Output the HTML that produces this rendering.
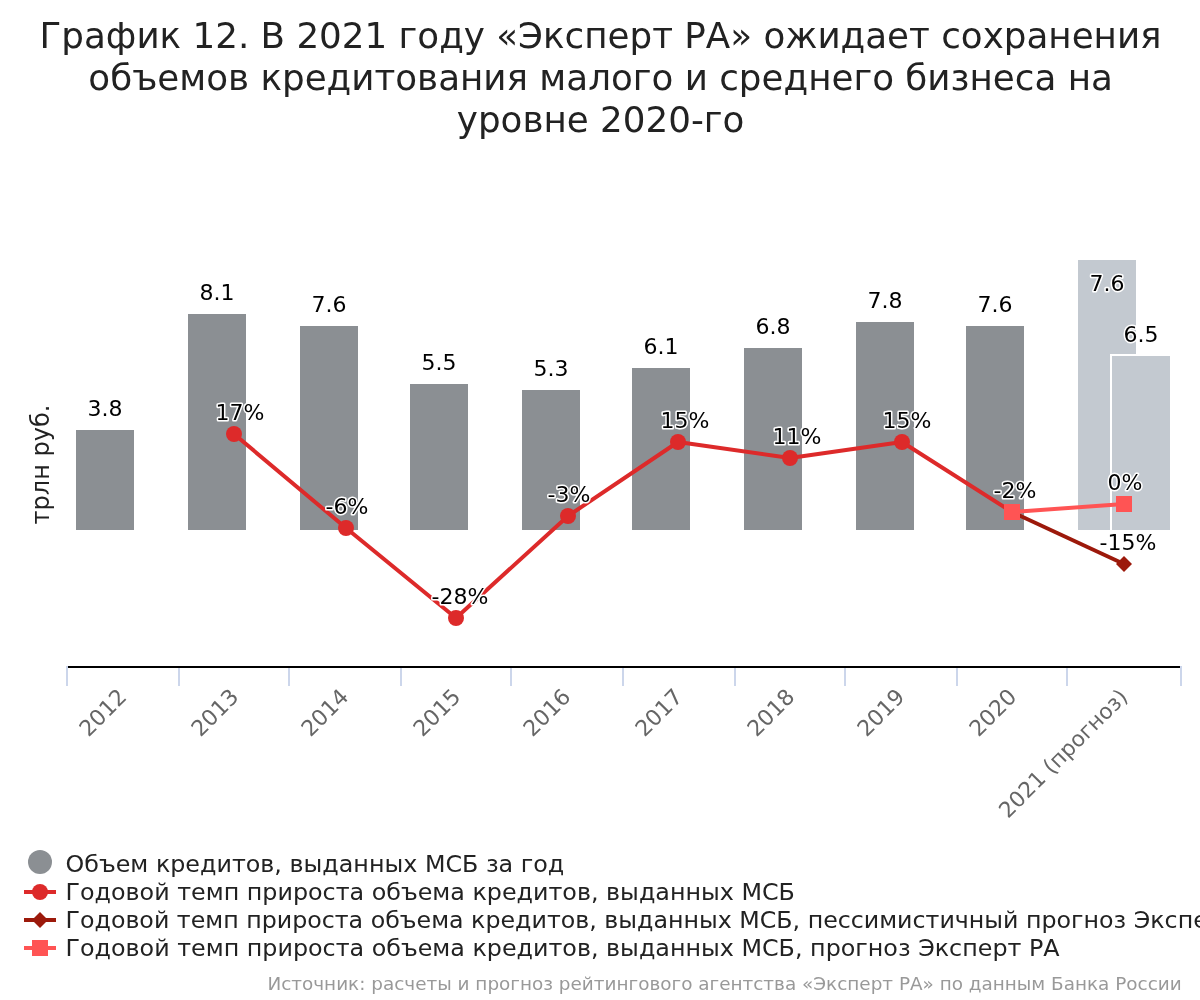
<!DOCTYPE html>
<html lang="ru">
<head>
<meta charset="utf-8">
<title>График 12</title>
<style>
html,body{margin:0;padding:0;background:#fff;}
body{width:1200px;height:1000px;overflow:hidden;}
svg{display:block;will-change:transform;font-family:"DejaVu Sans","Liberation Sans",sans-serif;}
.t{font-size:35.7px;fill:#222;}
.dl{font-size:22px;fill:#000;}
.ho{stroke:#fff;stroke-width:3px;stroke-linejoin:round;paint-order:stroke;}
.ax{font-size:22px;fill:#666;}
.lg{font-size:23.8px;fill:#222;}
.yt{font-size:24px;fill:#222;}
.cr{font-size:18.4px;fill:#999;}
</style>
</head>
<body>
<svg width="1200" height="1000" viewBox="0 0 1200 1000">
<rect x="0" y="0" width="1200" height="1000" fill="#fff"/>
<!-- title -->
<g class="t" text-anchor="middle">
<text x="600.6" y="48">График 12. В 2021 году «Эксперт РА» ожидает сохранения</text>
<text x="600.6" y="90">объемов кредитования малого и среднего бизнеса на</text>
<text x="600.6" y="132">уровне 2020-го</text>
</g>
<!-- y axis title -->
<text class="yt" transform="translate(48.5,464.5) rotate(-90)" text-anchor="middle">трлн руб.</text>
<!-- bars -->
<g fill="#8b8f93">
<rect x="76" y="430" width="58" height="100"/>
<rect x="188" y="314" width="58" height="216"/>
<rect x="300" y="326" width="58" height="204"/>
<rect x="410" y="384" width="58" height="146"/>
<rect x="522" y="390" width="58" height="140"/>
<rect x="632" y="368" width="58" height="162"/>
<rect x="744" y="348" width="58" height="182"/>
<rect x="856" y="322" width="58" height="208"/>
<rect x="966" y="326" width="58" height="204"/>
</g>
<rect x="1078" y="260" width="58" height="270" fill="#c3c9d0"/>
<rect x="1110" y="354" width="62" height="176" fill="#fff"/>
<rect x="1112" y="356" width="58" height="174" fill="#c3c9d0"/>
<!-- x axis -->
<g fill="#ccd6eb">
<rect x="66" y="666" width="2" height="20"/>
<rect x="178" y="666" width="2" height="20"/>
<rect x="288" y="666" width="2" height="20"/>
<rect x="400" y="666" width="2" height="20"/>
<rect x="510" y="666" width="2" height="20"/>
<rect x="622" y="666" width="2" height="20"/>
<rect x="734" y="666" width="2" height="20"/>
<rect x="844" y="666" width="2" height="20"/>
<rect x="956" y="666" width="2" height="20"/>
<rect x="1066" y="666" width="2" height="20"/>
<rect x="1180" y="666" width="2" height="20"/>
</g>
<rect x="68" y="666" width="1112" height="2" fill="#000"/>
<!-- lines -->
<polyline points="234,434 346,528 456,618 568,516 678,442 790,458 902,442 1012,512" fill="none" stroke="#dd2a2a" stroke-width="4" stroke-linejoin="round"/>
<polyline points="1012,512 1124,564" fill="none" stroke="#9c190b" stroke-width="4"/>
<polyline points="1012,512 1124,504" fill="none" stroke="#ff5454" stroke-width="4"/>
<g fill="#dd2a2a">
<circle cx="234" cy="434" r="8"/>
<circle cx="346" cy="528" r="8"/>
<circle cx="456" cy="618" r="8"/>
<circle cx="568" cy="516" r="8"/>
<circle cx="678" cy="442" r="8"/>
<circle cx="790" cy="458" r="8"/>
<circle cx="902" cy="442" r="8"/>
</g>
<path d="M1124 556 L1132 564 L1124 572 L1116 564 Z" fill="#9c190b"/>
<rect x="1004" y="504" width="16" height="16" fill="#ff5454"/>
<rect x="1116" y="496" width="16" height="16" fill="#ff5454"/>
<!-- data labels -->
<g class="dl ho" text-anchor="middle">
<text x="105" y="416">3.8</text>
<text x="217" y="300">8.1</text>
<text x="329" y="312">7.6</text>
<text x="439" y="370">5.5</text>
<text x="551" y="376">5.3</text>
<text x="661" y="354">6.1</text>
<text x="773" y="334">6.8</text>
<text x="885" y="308">7.8</text>
<text x="995" y="312">7.6</text>
<text x="1107" y="291">7.6</text>
<text x="1141" y="342">6.5</text>
<text x="240" y="420">17%</text>
<text x="347" y="514">-6%</text>
<text x="460" y="604">-28%</text>
<text x="569" y="502">-3%</text>
<text x="685" y="428">15%</text>
<text x="797" y="444">11%</text>
<text x="907" y="428">15%</text>
<text x="1015" y="498">-2%</text>
<text x="1125" y="490">0%</text>
<text x="1128" y="550">-15%</text>
</g>
<!-- x labels -->
<g class="ax" text-anchor="end">
<text transform="translate(128,698.2) rotate(-45)">2012</text>
<text transform="translate(240,698.2) rotate(-45)">2013</text>
<text transform="translate(350,698.2) rotate(-45)">2014</text>
<text transform="translate(462,698.2) rotate(-45)">2015</text>
<text transform="translate(572,698.2) rotate(-45)">2016</text>
<text transform="translate(684,698.2) rotate(-45)">2017</text>
<text transform="translate(796,698.2) rotate(-45)">2018</text>
<text transform="translate(906,698.2) rotate(-45)">2019</text>
<text transform="translate(1018,698.2) rotate(-45)">2020</text>
<text transform="translate(1129,698.2) rotate(-45)" style="font-size:21.75px">2021 (прогноз)</text>
</g>
<!-- legend -->
<circle cx="40" cy="862" r="12" fill="#8b8f93"/>
<rect x="24" y="890" width="32" height="4" fill="#dd2a2a"/>
<circle cx="40" cy="892" r="8" fill="#dd2a2a"/>
<rect x="24" y="918" width="32" height="4" fill="#9c190b"/>
<path d="M40 912 L48 920 L40 928 L32 920 Z" fill="#9c190b"/>
<rect x="24" y="946" width="32" height="4" fill="#ff5454"/>
<rect x="32" y="940" width="16" height="16" fill="#ff5454"/>
<g class="lg">
<text x="65.5" y="872">Объем кредитов, выданных МСБ за год</text>
<text x="65.5" y="900">Годовой темп прироста объема кредитов, выданных МСБ</text>
<text x="65.5" y="928" style="font-size:23.73px">Годовой темп прироста объема кредитов, выданных МСБ, пессимистичный прогноз Эксперт РА</text>
<text x="65.5" y="956">Годовой темп прироста объема кредитов, выданных МСБ, прогноз Эксперт РА</text>
</g>
<!-- credits -->
<text class="cr" x="1181.7" y="990" text-anchor="end">Источник: расчеты и прогноз рейтингового агентства «Эксперт РА» по данным Банка России</text>
</svg>
</body>
</html>
